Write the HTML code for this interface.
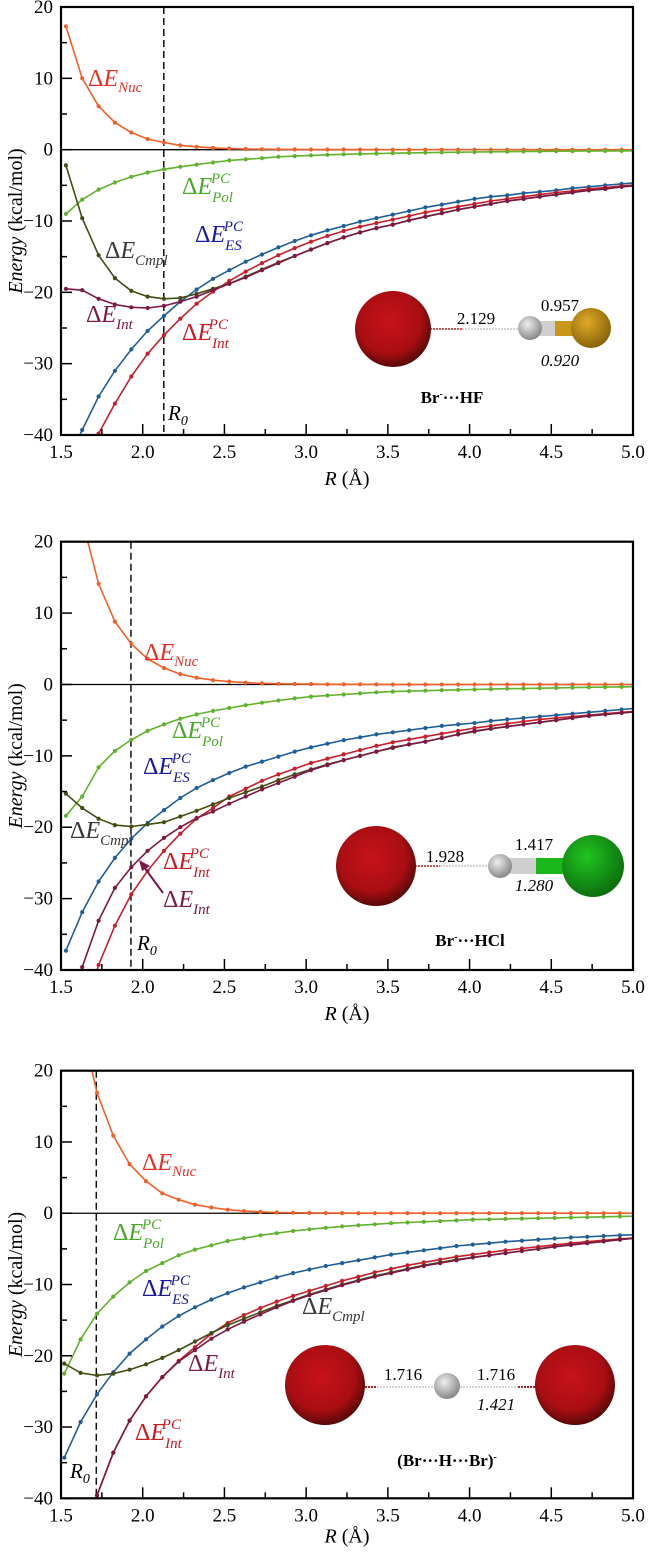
<!DOCTYPE html>
<html><head><meta charset="utf-8"><style>
html,body{margin:0;padding:0;background:#fff;width:650px;height:1553px;overflow:hidden;position:relative}
svg{display:block}
svg text{font-family:"Liberation Serif","DejaVu Serif","Times New Roman",serif}
</style></head><body>
<svg id="fig" width="650" height="1553" viewBox="0 0 650 1553" style="position:absolute;left:0;top:0"></svg>
<script>
// ---- data (kcal/mol) ----
const p1X0 = 1.53, p2X0 = 1.53, p3X0 = 1.52;
const p1Nuc = [17.3,10,6.1,3.8,2.4,1.5,1.0,0.6,0.4,0.25,0.15,0.1,0.07,0.05,0.04,0.03,0.02,0.02,0.01,0.01,0,0,0,0,0,0,0,0,0,0,0,0,0,0,0,0];
const p1Pol = [-9,-7,-5.6,-4.6,-3.8,-3.2,-2.75,-2.4,-2.1,-1.8,-1.5,-1.35,-1.2,-1.0,-0.9,-0.8,-0.72,-0.65,-0.6,-0.55,-0.5,-0.46,-0.42,-0.39,-0.36,-0.33,-0.3,-0.28,-0.26,-0.24,-0.22,-0.2,-0.19,-0.18,-0.17,-0.16];
const p1ES = [-44,-39.3,-34.6,-31.0,-28.0,-25.4,-23.3,-21.3,-19.6,-18.1,-16.9,-15.7,-14.7,-13.7,-12.8,-12.0,-11.3,-10.7,-10.1,-9.6,-9.1,-8.6,-8.1,-7.7,-7.3,-6.9,-6.6,-6.4,-6.1,-5.9,-5.7,-5.4,-5.2,-5.0,-4.8,-4.6];
const p1IntPC = [-53,-46,-39.8,-35.6,-31.8,-28.6,-26.0,-23.7,-21.6,-19.9,-18.4,-17.1,-15.9,-14.8,-13.8,-12.9,-12.1,-11.4,-10.8,-10.3,-9.8,-9.3,-8.8,-8.4,-8.0,-7.6,-7.2,-6.9,-6.6,-6.3,-6.0,-5.8,-5.5,-5.3,-5.1,-4.9];
const p1Int = [-19.5,-19.7,-20.9,-21.7,-22.1,-22.2,-21.9,-21.3,-20.6,-19.7,-18.8,-17.9,-16.9,-15.9,-14.9,-14.0,-13.1,-12.3,-11.6,-11.0,-10.5,-9.9,-9.4,-8.9,-8.4,-8.0,-7.6,-7.2,-6.9,-6.6,-6.3,-6.0,-5.7,-5.5,-5.2,-5.0];
const p1Cmpl = [-2.2,-9.6,-14.8,-18.0,-19.8,-20.6,-20.9,-20.8,-20.2,-19.5,-18.8,-17.8,-16.8,-15.8,-14.9,-14.0,-13.1,-12.3,-11.6,-11.0,-10.5,-9.9,-9.4,-8.9,-8.4,-8.0,-7.6,-7.2,-6.9,-6.6,-6.3,-6.0,-5.7,-5.5,-5.2,-5.0];

const p2Nuc = [38,23,14.1,8.8,5.7,3.6,2.3,1.45,0.95,0.6,0.4,0.25,0.15,0.1,0.07,0.05,0.03,0.02,0.02,0.01,0,0,0,0,0,0,0,0,0,0,0,0,0,0,0,0];
const p2Pol = [-18.4,-15.7,-11.6,-9.3,-7.75,-6.5,-5.6,-4.8,-4.2,-3.7,-3.3,-2.9,-2.55,-2.25,-1.95,-1.7,-1.55,-1.4,-1.25,-1.1,-1.0,-0.93,-0.87,-0.8,-0.75,-0.7,-0.65,-0.6,-0.56,-0.52,-0.48,-0.44,-0.4,-0.37,-0.34,-0.3];
const p2ES = [-37.3,-31.9,-27.6,-24.3,-21.6,-19.4,-17.6,-15.9,-14.5,-13.4,-12.4,-11.5,-10.8,-10.1,-9.4,-8.8,-8.3,-7.8,-7.4,-7.0,-6.7,-6.4,-6.1,-5.8,-5.6,-5.4,-5.1,-4.9,-4.7,-4.5,-4.3,-4.1,-3.9,-3.7,-3.5,-3.3];
const p2IntPC = [-56,-47,-39.3,-33.8,-29.4,-26.1,-23.3,-20.9,-18.8,-17.3,-15.7,-14.6,-13.5,-12.6,-11.8,-11.0,-10.4,-9.8,-9.2,-8.6,-8.1,-7.7,-7.3,-6.9,-6.5,-6.1,-5.8,-5.5,-5.2,-4.9,-4.7,-4.5,-4.3,-4.1,-3.9,-3.75];
const p2Int = [-48,-39.6,-33.1,-28.5,-25.6,-23.3,-21.5,-20.0,-18.7,-17.8,-16.7,-15.7,-14.7,-13.8,-12.9,-12.0,-11.3,-10.6,-10.0,-9.4,-8.8,-8.4,-8.0,-7.5,-7.0,-6.5,-6.2,-5.9,-5.6,-5.3,-5.0,-4.7,-4.4,-4.2,-4.0,-3.8];
const p2Cmpl = [-15.3,-17.3,-18.8,-19.7,-19.9,-19.6,-19.3,-18.5,-17.7,-16.8,-15.9,-15.1,-14.3,-13.4,-12.6,-11.9,-11.2,-10.6,-10.0,-9.4,-8.9,-8.4,-8.0,-7.5,-7.0,-6.6,-6.2,-5.9,-5.6,-5.3,-5.0,-4.7,-4.4,-4.2,-4.0,-3.8];

const p3Nuc = [44,27,16.9,10.9,6.9,4.5,2.8,1.9,1.2,0.8,0.5,0.3,0.2,0.1,0.07,0.05,0.03,0.02,0.01,0.01,0,0,0,0,0,0,0,0,0,0,0,0,0,0,0,0];
const p3Pol = [-22.5,-17.7,-14.1,-11.7,-9.7,-8.1,-7.0,-5.9,-5.1,-4.5,-3.9,-3.5,-3.1,-2.8,-2.5,-2.25,-2.05,-1.85,-1.7,-1.55,-1.4,-1.3,-1.2,-1.1,-1.0,-0.9,-0.85,-0.8,-0.75,-0.7,-0.65,-0.6,-0.55,-0.5,-0.45,-0.4];
const p3ES = [-34.3,-29.3,-25.4,-22.3,-19.7,-17.7,-15.9,-14.4,-13.2,-12.1,-11.2,-10.4,-9.7,-9.0,-8.4,-7.9,-7.4,-7.0,-6.6,-6.2,-5.8,-5.5,-5.2,-4.9,-4.6,-4.4,-4.2,-4.0,-3.85,-3.7,-3.55,-3.4,-3.3,-3.2,-3.1,-3.0];
const p3IntPC = [-60,-49,-39.6,-33.6,-29.1,-25.7,-23.0,-20.7,-18.8,-16.9,-15.4,-14.3,-13.3,-12.4,-11.6,-10.9,-10.2,-9.5,-8.9,-8.3,-7.8,-7.3,-6.9,-6.5,-6.1,-5.8,-5.5,-5.2,-4.95,-4.7,-4.45,-4.2,-4.0,-3.8,-3.6,-3.45];
const p3Int = [-60,-49,-39.6,-33.6,-29.1,-25.7,-23.0,-20.8,-19.2,-17.6,-16.3,-15.2,-14.2,-13.2,-12.3,-11.5,-10.8,-10.1,-9.5,-8.9,-8.4,-7.9,-7.4,-7.0,-6.6,-6.2,-5.9,-5.6,-5.3,-5.0,-4.7,-4.45,-4.2,-3.95,-3.7,-3.45];
const p3Cmpl = [-21.1,-22.4,-22.75,-22.5,-21.95,-21.2,-20.3,-19.2,-18.0,-16.8,-15.7,-14.8,-13.9,-13.0,-12.2,-11.4,-10.7,-10.0,-9.4,-8.8,-8.3,-7.8,-7.3,-6.9,-6.5,-6.2,-5.9,-5.6,-5.3,-5.0,-4.7,-4.45,-4.2,-3.95,-3.7,-3.5];

const r0Values = [2.129, 1.928, 1.716];
const xTickLabels = ["1.5","2.0","2.5","3.0","3.5","4.0","4.5","5.0"];
const yTickLabels = ["20","10","0","\u221210","\u221220","\u221230","\u221240"];

// ---- drawing ----
const NS = "http://www.w3.org/2000/svg";
const svg = document.getElementById("fig");
function mk(tag, attrs, parent, txt){
  const e = document.createElementNS(NS, tag);
  for (const k in attrs) e.setAttribute(k, attrs[k]);
  if (txt !== undefined) e.textContent = txt;
  (parent || svg).appendChild(e);
  return e;
}
const L = 61, R = 633, YMIN = -40, YMAX = 20, XMAX = 5.0;
const panels = [
  {top:7, bot:435, xt:50, x0:p1X0, ser:[p1Nuc,p1Pol,p1ES,p1IntPC,p1Int,p1Cmpl]},
  {top:541.7, bot:970, xt:50, x0:p2X0, ser:[p2Nuc,p2Pol,p2ES,p2IntPC,p2Int,p2Cmpl]},
  {top:1070.7, bot:1498.3, xt:44, x0:p3X0, ser:[p3Nuc,p3Pol,p3ES,p3IntPC,p3Int,p3Cmpl]}
];
const serNames = ["nuc","pol","es","int-pc","int","cmpl"];
const serColors = ["#f2602a","#63b22f","#1f5e99","#c81e2c","#7d1842","#414d12"];
const drawOrder = [0,1,2,3,5,4];

// clip a data polyline to the axis box in data space
function clipLine(pts){
  const out = [];
  const inside = q => q[1] >= YMIN && q[1] <= YMAX && q[0] <= XMAX;
  function cross(a, b){
    let t0 = 0, t1 = 1;
    const dx = b[0]-a[0], dy = b[1]-a[1];
    const tests = [[-dy, a[1]-YMIN],[dy, YMAX-a[1]],[dx, XMAX-a[0]]];
    for (const [p, q] of tests){
      if (p === 0){ if (q < 0) return null; continue; }
      const r = q / p;
      if (p < 0){ if (r > t1) return null; if (r > t0) t0 = r; }
      else { if (r < t0) return null; if (r < t1) t1 = r; }
    }
    return [[a[0]+t0*dx, a[1]+t0*dy],[a[0]+t1*dx, a[1]+t1*dy]];
  }
  for (let i = 0; i < pts.length - 1; i++){
    const c = cross(pts[i], pts[i+1]);
    if (c){ out.push(c[0]); out.push(c[1]); }
  }
  return out;
}

panels.forEach((p, pi) => {
  const g = mk("g", {}, svg);
  
  
  const xs = v => L + (v - 1.5) / 3.5 * (R - L);
  const ys = v => p.top + (20 - v) / 60 * (p.bot - p.top);
  const z = mk("line", {x1: L, x2: R, y1: ys(0), y2: ys(0), stroke: "#000", "stroke-width": 1.3}, g);
  
  
  const r0 = mk("line", {x1: xs(r0Values[pi]), x2: xs(r0Values[pi]), y1: p.top, y2: p.bot, stroke: "#111", "stroke-width": 1.5, "stroke-dasharray": "7,4"}, g);
  
  
  drawOrder.forEach(si => {
    const vals = p.ser[si];
    const data = vals.map((v, i) => [p.x0 + 0.1 * i, v]);
    const segs = clipLine(data);
    const pts = segs.map(q => xs(q[0]).toFixed(1) + "," + ys(q[1]).toFixed(1));
    const path = mk("polyline", {points: pts.join(" "), fill: "none", stroke: serColors[si], "stroke-width": 1.6}, g);
    
    
    data.forEach(q => {
      if (q[1] < YMIN || q[1] > YMAX || q[0] > XMAX) return;
      const c = mk("circle", {cx: xs(q[0]).toFixed(1), cy: ys(q[1]).toFixed(1), r: 2.1, fill: serColors[si]}, g);
      
      
    });
  });
  const fr = mk("rect", {x: L, y: p.top, width: R - L, height: p.bot - p.top, fill: "none", stroke: "#000", "stroke-width": 2.2}, g);
  
  
  for (let k = 0; k <= 14; k++) {
    const v = 1.5 + 0.25 * k, x = xs(v), len = k % 2 ? 6 : 11;
    const t = mk("line", {x1: x, x2: x, y1: p.bot, y2: p.bot - len, stroke: "#000", "stroke-width": 1.5}, g);
    
    
  }
  xTickLabels.forEach((s, i) => {
    const t = mk("text", {x: xs(1.5 + 0.5 * i), y: p.bot + 23, "text-anchor": "middle", "font-size": 19}, g, s);
    
    
  });
  for (let k = 0; k <= 12; k++) {
    const v = 20 - 5 * k, y = ys(v), len = k % 2 ? 6 : 11;
    const t = mk("line", {x1: L, x2: L + len, y1: y, y2: y, stroke: "#000", "stroke-width": 1.5}, g);
    
    
  }
  yTickLabels.forEach((s, i) => {
    const t = mk("text", {x: 53, y: ys(20 - 10 * i) + 6, "text-anchor": "end", "font-size": 19}, g, s);
    
    
  });
  const cy = (p.top + p.bot) / 2;
  const yt = mk("text", {x: 0, y: 0, transform: "translate(22," + cy + ") rotate(-90)", "text-anchor": "middle", "font-size": 20}, g);
  
  
  mk("tspan", {"font-style": "italic"}, yt, "Energy");
  mk("tspan", {}, yt, " (kcal/mol)");
  const xt = mk("text", {x: 347, y: p.bot + p.xt, "text-anchor": "middle", "font-size": 20}, g);
  
  
  mk("tspan", {"font-style": "italic"}, xt, "R");
  mk("tspan", {}, xt, " (\u00c5)");
});
</script>
<svg width="650" height="1553" style="position:absolute;left:0;top:0">
<defs>
<radialGradient id="gBr" cx="45%" cy="40%" r="60%"><stop offset="0" stop-color="#c8121a"/><stop offset="0.7" stop-color="#a80e12"/><stop offset="1" stop-color="#5a0808"/></radialGradient>
<radialGradient id="gH" cx="40%" cy="35%" r="65%"><stop offset="0" stop-color="#eeeeee"/><stop offset="1" stop-color="#888"/></radialGradient>
<radialGradient id="gF" cx="40%" cy="35%" r="65%"><stop offset="0" stop-color="#e0aa2a"/><stop offset="1" stop-color="#8a6408"/></radialGradient>
<radialGradient id="gCl" cx="40%" cy="35%" r="65%"><stop offset="0" stop-color="#22c422"/><stop offset="1" stop-color="#0c700c"/></radialGradient>
</defs>
<g>
<text x="88" y="86" font-size="24" fill="#e83028">Δ<tspan font-style="italic">E</tspan><tspan font-style="italic" font-size="15" dy="6">Nuc</tspan></text>
<text x="182" y="194" font-size="24" fill="#4aa82a">Δ<tspan font-style="italic">E</tspan><tspan font-style="italic" font-size="15" dy="8">Pol</tspan><tspan font-style="italic" font-size="15" dx="-22" dy="-19">PC</tspan></text>
<text x="195" y="242" font-size="24" fill="#1a1aa0">Δ<tspan font-style="italic">E</tspan><tspan font-style="italic" font-size="15" dy="8">ES</tspan><tspan font-style="italic" font-size="15" dx="-18" dy="-19">PC</tspan></text>
<text x="105" y="258" font-size="24" fill="#383838">Δ<tspan font-style="italic">E</tspan><tspan font-style="italic" font-size="15" dy="7">Cmpl</tspan></text>
<text x="86" y="322" font-size="24" fill="#7a1a48">Δ<tspan font-style="italic">E</tspan><tspan font-style="italic" font-size="15" dy="7">Int</tspan></text>
<text x="182" y="340" font-size="24" fill="#cc1a22">Δ<tspan font-style="italic">E</tspan><tspan font-style="italic" font-size="15" dy="8">Int</tspan><tspan font-style="italic" font-size="15" dx="-20" dy="-19">PC</tspan></text>
<text x="168" y="420" font-size="21" font-style="italic" fill="#000">R<tspan font-size="14" dy="5">0</tspan></text>
<text x="144" y="660" font-size="24" fill="#e83028">Δ<tspan font-style="italic">E</tspan><tspan font-style="italic" font-size="15" dy="6">Nuc</tspan></text>
<text x="172" y="738" font-size="24" fill="#4aa82a">Δ<tspan font-style="italic">E</tspan><tspan font-style="italic" font-size="15" dy="8">Pol</tspan><tspan font-style="italic" font-size="15" dx="-22" dy="-19">PC</tspan></text>
<text x="143" y="774" font-size="24" fill="#1a1aa0">Δ<tspan font-style="italic">E</tspan><tspan font-style="italic" font-size="15" dy="8">ES</tspan><tspan font-style="italic" font-size="15" dx="-18" dy="-19">PC</tspan></text>
<text x="70" y="838" font-size="24" fill="#383838">Δ<tspan font-style="italic">E</tspan><tspan font-style="italic" font-size="15" dy="7">Cmpl</tspan></text>
<text x="163" y="869" font-size="24" fill="#cc1a22">Δ<tspan font-style="italic">E</tspan><tspan font-style="italic" font-size="15" dy="8">Int</tspan><tspan font-style="italic" font-size="15" dx="-20" dy="-19">PC</tspan></text>
<text x="163" y="907" font-size="24" fill="#7a1a48">Δ<tspan font-style="italic">E</tspan><tspan font-style="italic" font-size="15" dy="7">Int</tspan></text>
<text x="137" y="950" font-size="21" font-style="italic" fill="#000">R<tspan font-size="14" dy="5">0</tspan></text>
<text x="142" y="1170" font-size="24" fill="#e83028">Δ<tspan font-style="italic">E</tspan><tspan font-style="italic" font-size="15" dy="6">Nuc</tspan></text>
<text x="113" y="1240" font-size="24" fill="#4aa82a">Δ<tspan font-style="italic">E</tspan><tspan font-style="italic" font-size="15" dy="8">Pol</tspan><tspan font-style="italic" font-size="15" dx="-22" dy="-19">PC</tspan></text>
<text x="142" y="1296" font-size="24" fill="#1a1aa0">Δ<tspan font-style="italic">E</tspan><tspan font-style="italic" font-size="15" dy="8">ES</tspan><tspan font-style="italic" font-size="15" dx="-18" dy="-19">PC</tspan></text>
<text x="302" y="1314" font-size="24" fill="#383838">Δ<tspan font-style="italic">E</tspan><tspan font-style="italic" font-size="15" dy="7">Cmpl</tspan></text>
<text x="188" y="1371" font-size="24" fill="#7a1a48">Δ<tspan font-style="italic">E</tspan><tspan font-style="italic" font-size="15" dy="7">Int</tspan></text>
<text x="135" y="1440" font-size="24" fill="#cc1a22">Δ<tspan font-style="italic">E</tspan><tspan font-style="italic" font-size="15" dy="8">Int</tspan><tspan font-style="italic" font-size="15" dx="-20" dy="-19">PC</tspan></text>
<text x="70" y="1478" font-size="21" font-style="italic" fill="#000">R<tspan font-size="14" dy="5">0</tspan></text>
</g>
<g>
<line x1="163" y1="893" x2="144" y2="867" stroke="#7a1a48" stroke-width="2"/>
<polygon points="139,860 150,866 142,871" fill="#7a1a48"/>
</g>
<g>
<line x1="393" y1="329" x2="430" y2="329" stroke="#5a0a0a" stroke-width="1" stroke-dasharray="2,1"/>
<line x1="430" y1="329" x2="462" y2="329" stroke="#b02020" stroke-width="1.6" stroke-dasharray="2,1"/>
<line x1="462" y1="329" x2="520" y2="329" stroke="#bbb" stroke-width="1.2" stroke-dasharray="2,1"/>
<circle cx="393" cy="329" r="38" fill="url(#gBr)"/>
<rect x="530" y="321" width="30" height="15" fill="#cfcfcf"/>
<rect x="555" y="321" width="22" height="15" fill="#c8961a"/>
<circle cx="530" cy="328" r="12" fill="url(#gH)"/>
<circle cx="591" cy="328" r="20" fill="url(#gF)"/>
<text x="476" y="324" font-size="17" text-anchor="middle">2.129</text>
<text x="560" y="311" font-size="17" text-anchor="middle">0.957</text>
<text x="560" y="366" font-size="17" text-anchor="middle" font-style="italic">0.920</text>
<text x="452" y="403" font-size="17" font-weight="bold" text-anchor="middle">Br<tspan font-size="10" dy="-6">-</tspan><tspan dy="6">···HF</tspan></text>
</g>
<g>
<line x1="376" y1="866" x2="415" y2="866" stroke="#5a0a0a" stroke-width="1" stroke-dasharray="2,1"/>
<line x1="415" y1="866" x2="440" y2="866" stroke="#b02020" stroke-width="1.6" stroke-dasharray="2,1"/>
<line x1="440" y1="866" x2="490" y2="866" stroke="#bbb" stroke-width="1.2" stroke-dasharray="2,1"/>
<circle cx="376" cy="866" r="40" fill="url(#gBr)"/>
<rect x="500" y="858" width="38" height="16" fill="#cfcfcf"/>
<rect x="536" y="858" width="30" height="16" fill="#1ab81a"/>
<circle cx="500" cy="866" r="12" fill="url(#gH)"/>
<circle cx="593" cy="866" r="31" fill="url(#gCl)"/>
<text x="445" y="862" font-size="17" text-anchor="middle">1.928</text>
<text x="534" y="850" font-size="17" text-anchor="middle">1.417</text>
<text x="534" y="891" font-size="17" text-anchor="middle" font-style="italic">1.280</text>
<text x="470" y="946" font-size="17" font-weight="bold" text-anchor="middle">Br<tspan font-size="10" dy="-6">-</tspan><tspan dy="6">···HCl</tspan></text>
</g>
<g>
<line x1="325" y1="1387" x2="365" y2="1387" stroke="#5a0a0a" stroke-width="1" stroke-dasharray="2,1"/>
<line x1="365" y1="1387" x2="377" y2="1387" stroke="#b02020" stroke-width="2" stroke-dasharray="2,1"/>
<line x1="377" y1="1387" x2="435" y2="1387" stroke="#bbb" stroke-width="1.2" stroke-dasharray="2,1"/>
<line x1="460" y1="1387" x2="518" y2="1387" stroke="#bbb" stroke-width="1.2" stroke-dasharray="2,1"/>
<line x1="518" y1="1387" x2="535" y2="1387" stroke="#b02020" stroke-width="2" stroke-dasharray="2,1"/>
<line x1="535" y1="1387" x2="575" y2="1387" stroke="#5a0a0a" stroke-width="1" stroke-dasharray="2,1"/>
<circle cx="325" cy="1385" r="40" fill="url(#gBr)"/>
<circle cx="575" cy="1385" r="40" fill="url(#gBr)"/>
<circle cx="447" cy="1386" r="13" fill="url(#gH)"/>
<text x="403" y="1380" font-size="17" text-anchor="middle">1.716</text>
<text x="496" y="1380" font-size="17" text-anchor="middle">1.716</text>
<text x="496" y="1410" font-size="17" text-anchor="middle" font-style="italic">1.421</text>
<text x="447" y="1466" font-size="17" font-weight="bold" text-anchor="middle">(Br···H···Br)<tspan font-size="10" dy="-6">-</tspan></text>
</g>
</svg>
</body></html>
